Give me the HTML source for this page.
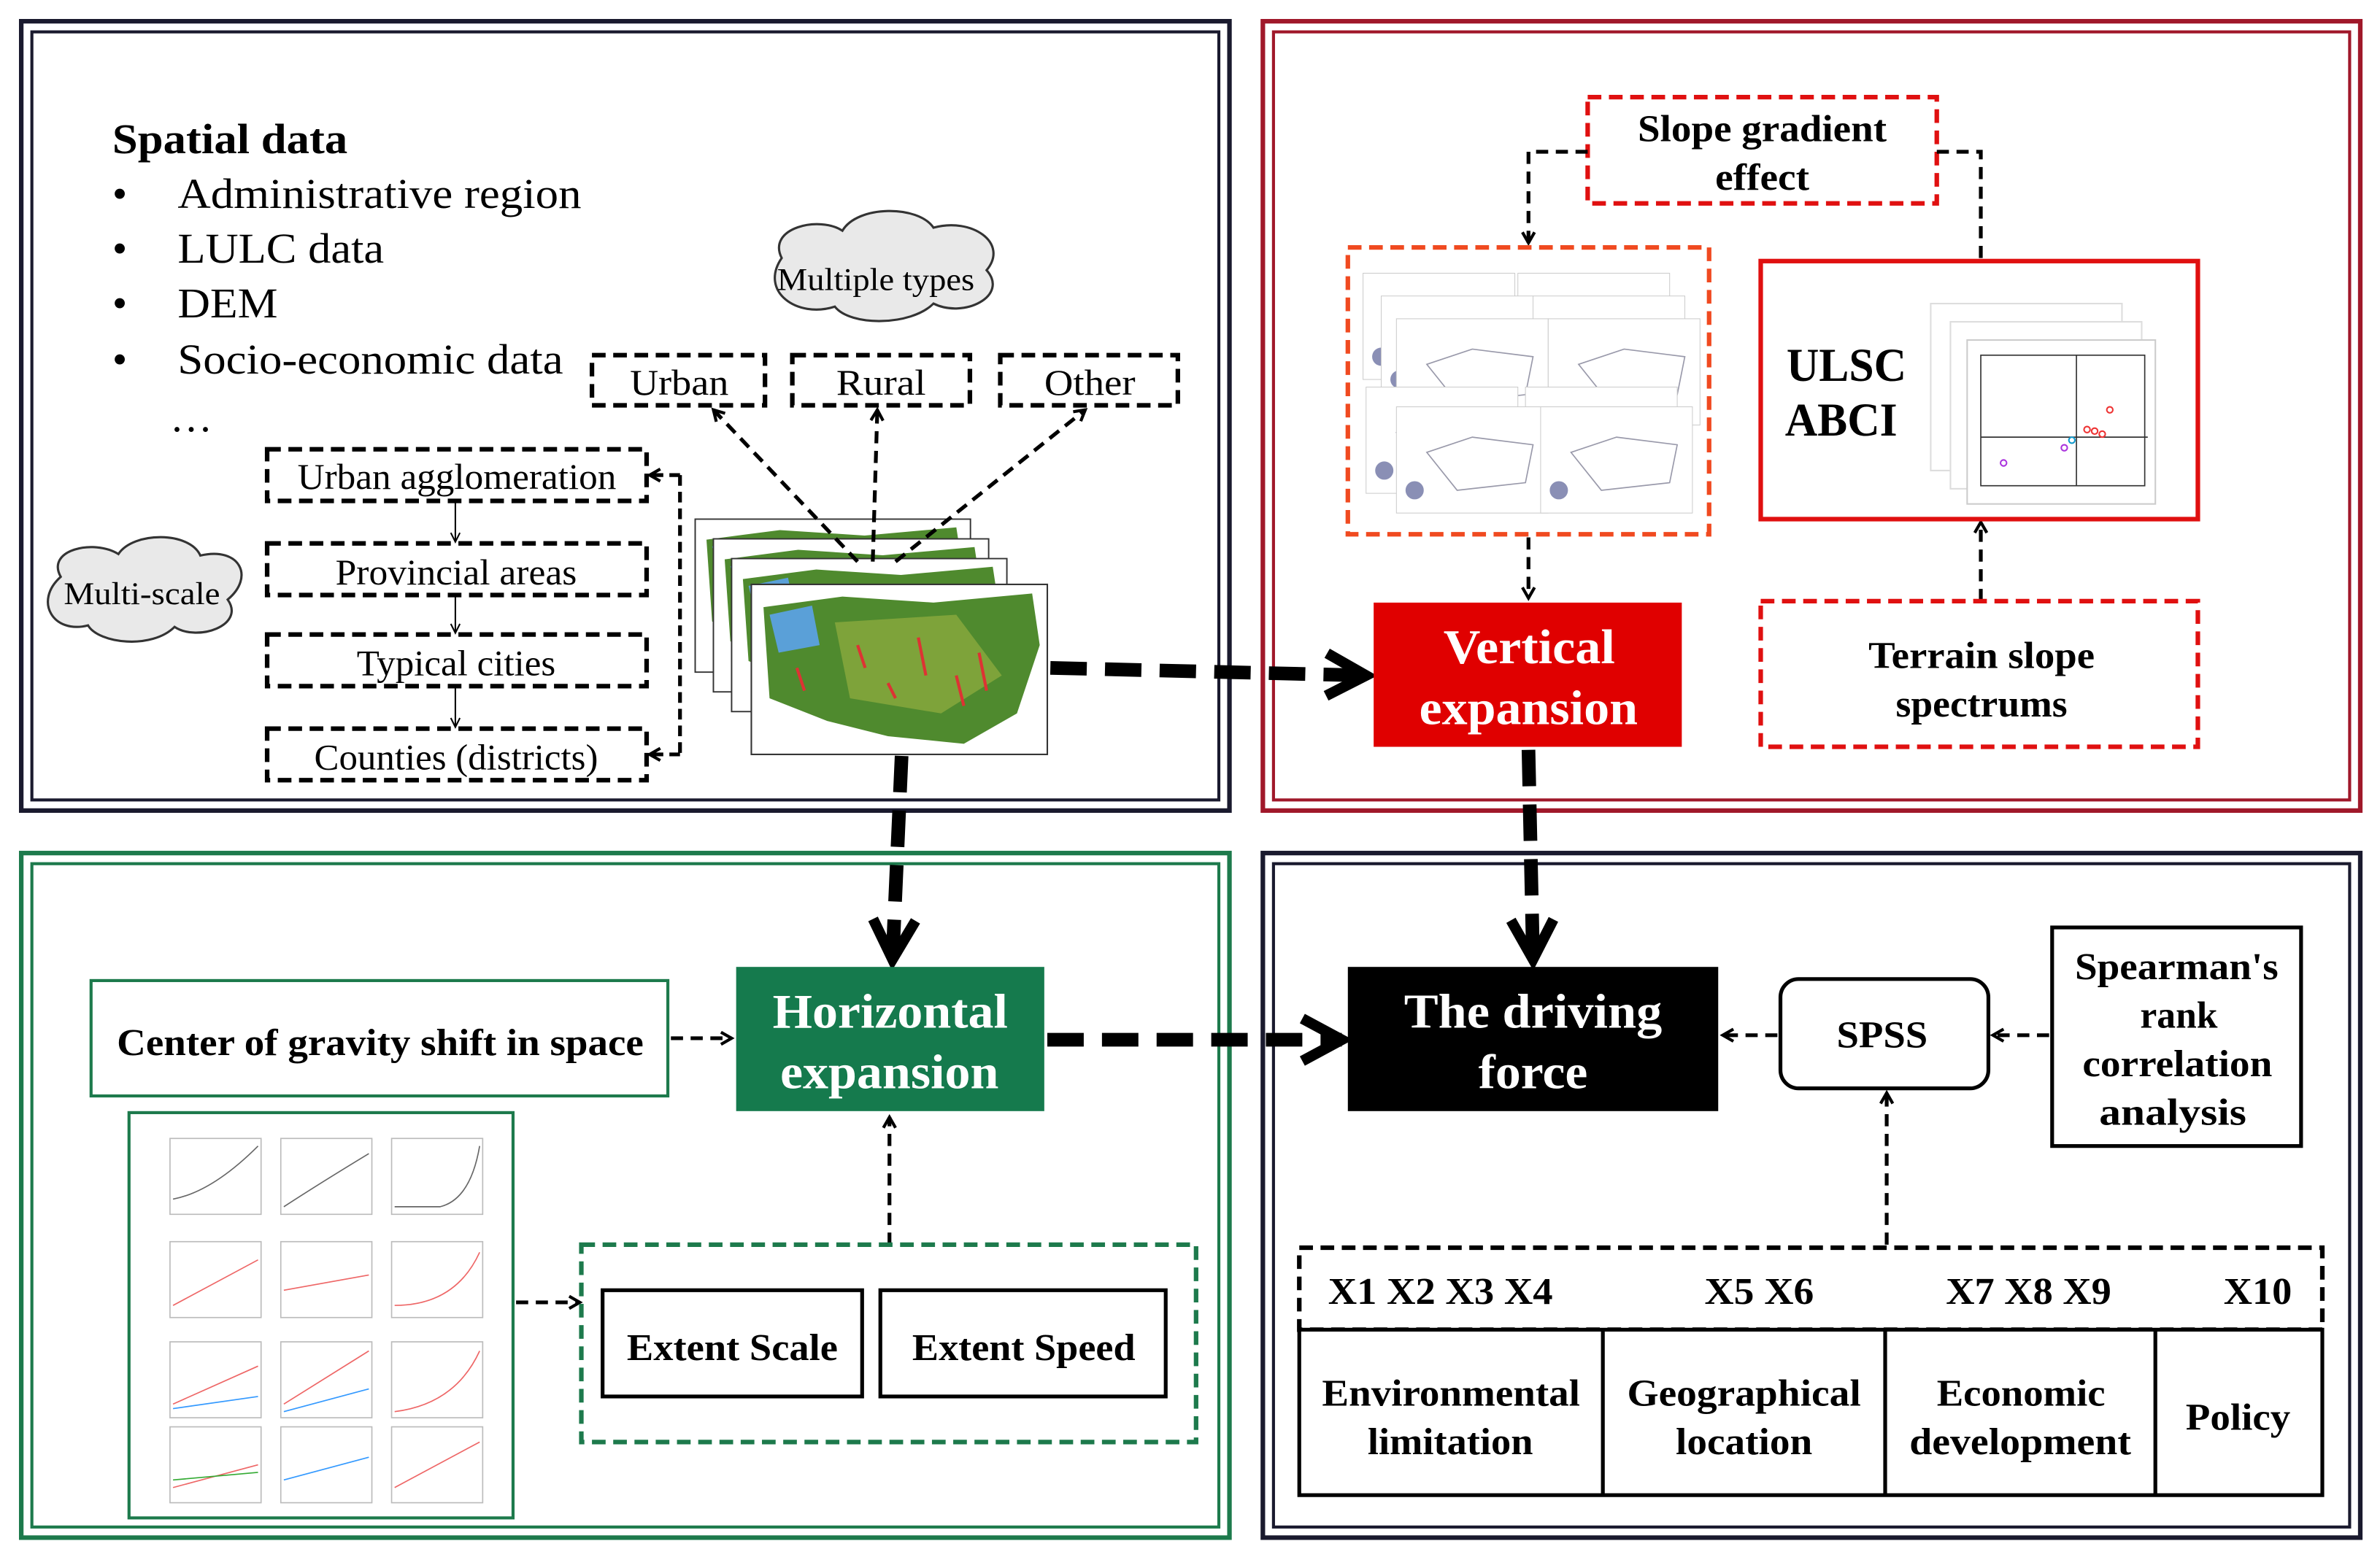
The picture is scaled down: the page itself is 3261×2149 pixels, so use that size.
<!DOCTYPE html>
<html><head><meta charset="utf-8"><style>
html,body{margin:0;padding:0;background:#fff;width:3261px;height:2149px;overflow:hidden}
svg{display:block}
text{font-family:"Liberation Serif",serif}
.b{font-weight:bold}
</style></head><body>
<svg width="3261" height="2149" viewBox="0 0 1568 1033" preserveAspectRatio="none" xmlns="http://www.w3.org/2000/svg">
<defs>
<marker id="ah" markerWidth="10" markerHeight="10" refX="8" refY="5" orient="auto" markerUnits="userSpaceOnUse"><polyline points="1,1 8,5 1,9" fill="none" stroke="#000" stroke-width="2"/></marker>
<marker id="ahs" markerWidth="10" markerHeight="10" refX="8" refY="5" orient="auto" markerUnits="userSpaceOnUse"><polyline points="2,2 8,5 2,8" fill="none" stroke="#000" stroke-width="1"/></marker>
<marker id="big" markerWidth="40" markerHeight="40" refX="32" refY="20" orient="auto" markerUnits="userSpaceOnUse"><polyline points="6,6 32,20 6,34" fill="none" stroke="#000" stroke-width="7"/></marker>
<g id="map">
<rect x="0" y="0" width="195" height="112" fill="#fff" stroke="#333"/>
<path d="M8,15 L60,8 L120,12 L185,6 L190,40 L175,85 L140,105 L90,100 L50,90 L12,75 Z" fill="#4f8a2e"/>
<path d="M12,20 L40,14 L45,40 L18,45 Z" fill="#5aa0d8"/>
<path d="M55,25 L135,20 L165,60 L125,85 L65,75 Z" fill="#7ea33a"/>
<g stroke="#d33" stroke-width="2"><line x1="70" y1="40" x2="75" y2="55"/><line x1="110" y1="35" x2="115" y2="60"/><line x1="150" y1="45" x2="155" y2="70"/><line x1="135" y1="60" x2="140" y2="80"/><line x1="90" y1="65" x2="95" y2="75"/><line x1="30" y1="55" x2="35" y2="70"/></g>
</g>
<g id="smap"><rect width="100" height="70" fill="#fff" stroke="#ccc" stroke-width="0.5"/><path d="M20,30 L50,20 L90,25 L85,50 L40,55 Z" fill="none" stroke="#99a" stroke-width="0.8"/><circle cx="12" cy="55" r="6" fill="#8a8fb5"/></g>
</defs>

<rect x="14" y="14" width="796" height="520" fill="none" stroke="#1a1a2e" stroke-width="3"/>
<rect x="21" y="21" width="782" height="506" fill="none" stroke="#1a1a2e" stroke-width="2"/>
<rect x="832" y="14" width="723" height="520" fill="none" stroke="#a0182a" stroke-width="3"/>
<rect x="839" y="21" width="709" height="506" fill="none" stroke="#a0182a" stroke-width="2"/>
<rect x="14" y="562" width="796" height="451" fill="none" stroke="#1d7a4c" stroke-width="3"/>
<rect x="21" y="569" width="782" height="437" fill="none" stroke="#1d7a4c" stroke-width="2"/>
<rect x="832" y="562" width="723" height="451" fill="none" stroke="#1a1a2e" stroke-width="3"/>
<rect x="839" y="569" width="709" height="437" fill="none" stroke="#1a1a2e" stroke-width="2"/>

<g lengthAdjust="spacingAndGlyphs">
<text x="74" y="101" font-size="28" class="b" textLength="155" lengthAdjust="spacingAndGlyphs">Spatial data</text>
<g font-size="28">
<text x="74" y="137">•</text><text x="117" y="137" textLength="266" lengthAdjust="spacingAndGlyphs">Administrative region</text>
<text x="74" y="173">•</text><text x="117" y="173" textLength="136" lengthAdjust="spacingAndGlyphs">LULC data</text>
<text x="74" y="209">•</text><text x="117" y="209" textLength="66" lengthAdjust="spacingAndGlyphs">DEM</text>
<text x="74" y="246">•</text><text x="117" y="246" textLength="254" lengthAdjust="spacingAndGlyphs">Socio-economic data</text>
<text x="112" y="284" textLength="28" lengthAdjust="spacingAndGlyphs">…</text>
</g>
</g>
<path d="M515,170 C505,150 540,142 555,152 C565,135 605,135 615,150 C640,143 665,160 650,178 C665,195 635,210 615,200 C600,215 560,215 550,202 C525,210 500,192 515,170Z" fill="#e9e9e9" stroke="#333" stroke-width="1.5"/>
<text x="512" y="191" font-size="21" textLength="130" lengthAdjust="spacingAndGlyphs">Multiple types</text>
<path d="M40,380 C30,362 62,355 78,365 C88,350 125,350 132,366 C158,360 168,380 150,395 C162,412 130,423 115,413 C100,428 65,424 58,412 C35,418 22,396 40,380Z" fill="#e9e9e9" stroke="#333" stroke-width="1.5"/>
<text x="42" y="398" font-size="21" textLength="103" lengthAdjust="spacingAndGlyphs">Multi-scale</text>

<g fill="#fff" stroke="#000" stroke-width="3" stroke-dasharray="9,5">
<rect x="390" y="234" width="114" height="33"/><rect x="522" y="234" width="117" height="33"/><rect x="659" y="234" width="117" height="33"/>
<rect x="176" y="296" width="250" height="34"/><rect x="176" y="358" width="250" height="34"/><rect x="176" y="418" width="250" height="34"/><rect x="176" y="480" width="250" height="34"/>
</g>
<g font-size="24">
<text x="415" y="260" textLength="65" lengthAdjust="spacingAndGlyphs">Urban</text><text x="551" y="260" textLength="59" lengthAdjust="spacingAndGlyphs">Rural</text><text x="688" y="260" textLength="60" lengthAdjust="spacingAndGlyphs">Other</text>
<text x="196" y="322" textLength="210" lengthAdjust="spacingAndGlyphs">Urban agglomeration</text><text x="221" y="385" textLength="159" lengthAdjust="spacingAndGlyphs">Provincial areas</text><text x="235" y="445" textLength="131" lengthAdjust="spacingAndGlyphs">Typical cities</text><text x="207" y="507" textLength="187" lengthAdjust="spacingAndGlyphs">Counties (districts)</text>
</g>
<g stroke="#000" stroke-width="1" marker-end="url(#ahs)"><line x1="300" y1="331" x2="300" y2="357"/><line x1="300" y1="393" x2="300" y2="417"/><line x1="300" y1="453" x2="300" y2="479"/></g>
<polyline points="448,313 448,497" fill="none" stroke="#000" stroke-width="2.5" stroke-dasharray="7,4"/>
<g stroke="#000" stroke-width="2.5" stroke-dasharray="7,4" marker-end="url(#ah)"><line x1="448" y1="313" x2="428" y2="313"/><line x1="448" y1="497" x2="428" y2="497"/></g>

<use href="#map" transform="translate(458,342) scale(0.93,0.9)"/>
<use href="#map" transform="translate(470,355) scale(0.93,0.9)"/>
<use href="#map" transform="translate(482,368) scale(0.93,0.9)"/>
<use href="#map" x="495" y="385"/>
<g stroke="#000" stroke-width="2.5" stroke-dasharray="8,5" marker-end="url(#ah)"><line x1="565" y1="370" x2="470" y2="270"/><line x1="575" y1="370" x2="578" y2="270"/><line x1="590" y1="370" x2="715" y2="270"/></g>

<g stroke="#000" stroke-width="9" stroke-dasharray="24,12" fill="none" marker-end="url(#big)">
<line x1="692" y1="440" x2="900" y2="445"/>
<line x1="594" y1="498" x2="588" y2="632"/>
<line x1="1007" y1="494" x2="1010" y2="632"/>
<line x1="690" y1="685" x2="884" y2="685"/>
</g>

<rect x="1046" y="64" width="230" height="70" fill="#fff" stroke="#e01010" stroke-width="3" stroke-dasharray="9,5"/>
<text x="1079" y="93" font-size="25" class="b" textLength="164" lengthAdjust="spacingAndGlyphs">Slope gradient</text>
<text x="1130" y="125" font-size="25" class="b" textLength="62" lengthAdjust="spacingAndGlyphs">effect</text>
<g fill="none" stroke="#000" stroke-width="2.5" stroke-dasharray="8,5">
<polyline points="1046,100 1007,100 1007,160" marker-end="url(#ah)"/>
<polyline points="1276,100 1305,100 1305,172"/>
<line x1="1007" y1="354" x2="1007" y2="394" marker-end="url(#ah)"/>
<line x1="1305" y1="396" x2="1305" y2="344" marker-end="url(#ah)"/>
</g>
<rect x="888" y="163" width="238" height="189" fill="#fff" stroke="#f04a20" stroke-width="3" stroke-dasharray="9,5"/>
<use href="#smap" x="898" y="180"/><use href="#smap" x="1000" y="180"/>
<use href="#smap" x="910" y="195"/><use href="#smap" x="1010" y="195"/>
<use href="#smap" x="920" y="210"/><use href="#smap" x="1020" y="210"/>
<use href="#smap" x="900" y="255"/><use href="#smap" x="1005" y="255"/>
<use href="#smap" x="920" y="268"/><use href="#smap" x="1015" y="268"/>
<rect x="1160" y="172" width="288" height="170" fill="#fff" stroke="#e01010" stroke-width="3"/>
<text x="1177" y="251" font-size="31" class="b" textLength="79" lengthAdjust="spacingAndGlyphs">ULSC</text>
<text x="1176" y="287" font-size="31" class="b" textLength="74" lengthAdjust="spacingAndGlyphs">ABCI</text>
<rect x="1272" y="200" width="126" height="110" fill="#fff" stroke="#ddd"/>
<rect x="1285" y="212" width="126" height="110" fill="#fff" stroke="#ddd"/>
<rect x="1296" y="224" width="124" height="108" fill="#fff" stroke="#ccc"/>
<g stroke="#333" stroke-width="0.8"><line x1="1305" y1="288" x2="1415" y2="288"/><line x1="1368" y1="234" x2="1368" y2="320"/><rect x="1305" y="234" width="108" height="86" fill="none"/></g>
<g fill="none" stroke-width="1"><circle cx="1380" cy="284" r="2" stroke="#e33"/><circle cx="1385" cy="286" r="2" stroke="#e33"/><circle cx="1375" cy="283" r="2" stroke="#e33"/><circle cx="1365" cy="290" r="2" stroke="#19c"/><circle cx="1360" cy="295" r="2" stroke="#a3d"/><circle cx="1320" cy="305" r="2" stroke="#a3d"/><circle cx="1390" cy="270" r="2" stroke="#e33"/></g>
<rect x="1160" y="396" width="288" height="96" fill="#fff" stroke="#e01010" stroke-width="3" stroke-dasharray="9,5"/>
<text x="1231" y="440" font-size="25" class="b" textLength="149" lengthAdjust="spacingAndGlyphs">Terrain slope</text>
<text x="1249" y="472" font-size="25" class="b" textLength="113" lengthAdjust="spacingAndGlyphs">spectrums</text>
<rect x="905" y="397" width="203" height="95" fill="#e00000"/>
<text x="951" y="437" font-size="32" class="b" fill="#fff" textLength="113" lengthAdjust="spacingAndGlyphs">Vertical</text>
<text x="935" y="477" font-size="32" class="b" fill="#fff" textLength="144" lengthAdjust="spacingAndGlyphs">expansion</text>

<rect x="485" y="637" width="203" height="95" fill="#157a4d"/>
<text x="509" y="677" font-size="32" class="b" fill="#fff" textLength="155" lengthAdjust="spacingAndGlyphs">Horizontal</text>
<text x="514" y="717" font-size="32" class="b" fill="#fff" textLength="144" lengthAdjust="spacingAndGlyphs">expansion</text>
<rect x="60" y="646" width="380" height="76" fill="#fff" stroke="#1d7a4c" stroke-width="2"/>
<text x="77" y="695" font-size="25" class="b" textLength="347" lengthAdjust="spacingAndGlyphs">Center of gravity shift in space</text>
<g fill="none" stroke="#000" stroke-width="2.5" stroke-dasharray="8,5" marker-end="url(#ah)">
<line x1="442" y1="684" x2="482" y2="684"/>
<line x1="340" y1="858" x2="382" y2="858"/>
<line x1="586" y1="820" x2="586" y2="736"/>
</g>
<rect x="85" y="733" width="253" height="267" fill="#fff" stroke="#1d7a4c" stroke-width="2"/>
<g fill="none" stroke-width="0.8">
<g stroke="#bbb"><rect x="112" y="750" width="60" height="50"/><rect x="185" y="750" width="60" height="50"/><rect x="258" y="750" width="60" height="50"/>
<rect x="112" y="818" width="60" height="50"/><rect x="185" y="818" width="60" height="50"/><rect x="258" y="818" width="60" height="50"/>
<rect x="112" y="884" width="60" height="50"/><rect x="185" y="884" width="60" height="50"/><rect x="258" y="884" width="60" height="50"/>
<rect x="112" y="940" width="60" height="50"/><rect x="185" y="940" width="60" height="50"/><rect x="258" y="940" width="60" height="50"/></g>
<path d="M114,790 Q140,785 170,755" stroke="#666"/><path d="M187,795 Q210,780 243,760" stroke="#666"/><path d="M260,795 L290,795 Q310,790 316,755" stroke="#666"/>
<path d="M114,860 L170,830" stroke="#e66"/><path d="M187,850 L243,840" stroke="#e66"/><path d="M260,860 Q300,860 316,825" stroke="#e66"/>
<path d="M114,925 L170,900" stroke="#e66"/><path d="M114,928 L170,920" stroke="#39f"/><path d="M187,925 L243,890" stroke="#e66"/><path d="M187,930 L243,915" stroke="#39f"/><path d="M260,930 Q300,925 316,890" stroke="#e66"/>
<path d="M114,980 L170,965" stroke="#e66"/><path d="M114,975 L170,970" stroke="#3a3"/><path d="M187,975 L243,960" stroke="#39f"/><path d="M260,980 L316,950" stroke="#e66"/>
</g>
<rect x="383" y="820" width="405" height="130" fill="none" stroke="#1d7a4c" stroke-width="3" stroke-dasharray="9,5"/>
<rect x="397" y="850" width="171" height="70" fill="#fff" stroke="#000" stroke-width="2.5"/>
<rect x="580" y="850" width="188" height="70" fill="#fff" stroke="#000" stroke-width="2.5"/>
<text x="413" y="896" font-size="25" class="b" textLength="139" lengthAdjust="spacingAndGlyphs">Extent Scale</text>
<text x="601" y="896" font-size="25" class="b" textLength="147" lengthAdjust="spacingAndGlyphs">Extent Speed</text>

<rect x="888" y="637" width="244" height="95" fill="#000"/>
<text x="925" y="677" font-size="32" class="b" fill="#fff" textLength="170" lengthAdjust="spacingAndGlyphs">The driving</text>
<text x="974" y="717" font-size="32" class="b" fill="#fff" textLength="72" lengthAdjust="spacingAndGlyphs">force</text>
<rect x="1173" y="645" width="137" height="72" rx="12" fill="#fff" stroke="#000" stroke-width="2.5"/>
<text x="1210" y="690" font-size="25" class="b" textLength="60" lengthAdjust="spacingAndGlyphs">SPSS</text>
<rect x="1352" y="611" width="164" height="144" fill="#fff" stroke="#000" stroke-width="2.5"/>
<g font-size="25" class="b"><text x="1367" y="645" textLength="134" lengthAdjust="spacingAndGlyphs">Spearman's</text><text x="1410" y="677" textLength="51" lengthAdjust="spacingAndGlyphs">rank</text><text x="1372" y="709" textLength="125" lengthAdjust="spacingAndGlyphs">correlation</text><text x="1383" y="741" textLength="97" lengthAdjust="spacingAndGlyphs">analysis</text></g>
<g fill="none" stroke="#000" stroke-width="2.5" stroke-dasharray="8,5" marker-end="url(#ah)">
<line x1="1350" y1="682" x2="1313" y2="682"/>
<line x1="1171" y1="682" x2="1135" y2="682"/>
<line x1="1243" y1="820" x2="1243" y2="720"/>
</g>
<rect x="856" y="822" width="674" height="54" fill="none" stroke="#000" stroke-width="3" stroke-dasharray="9,5"/>
<g font-size="25" class="b"><text x="875" y="859" textLength="148" lengthAdjust="spacingAndGlyphs">X1 X2 X3 X4</text><text x="1123" y="859" textLength="72" lengthAdjust="spacingAndGlyphs">X5 X6</text><text x="1282" y="859" textLength="109" lengthAdjust="spacingAndGlyphs">X7 X8 X9</text><text x="1465" y="859" textLength="45" lengthAdjust="spacingAndGlyphs">X10</text></g>
<rect x="856" y="876" width="674" height="109" fill="#fff" stroke="#000" stroke-width="2.5"/>
<g stroke="#000" stroke-width="2.5"><line x1="1056" y1="876" x2="1056" y2="985"/><line x1="1242" y1="876" x2="1242" y2="985"/><line x1="1420" y1="876" x2="1420" y2="985"/></g>
<g font-size="25" class="b">
<text x="871" y="926" textLength="170" lengthAdjust="spacingAndGlyphs">Environmental</text><text x="901" y="958" textLength="109" lengthAdjust="spacingAndGlyphs">limitation</text>
<text x="1072" y="926" textLength="154" lengthAdjust="spacingAndGlyphs">Geographical</text><text x="1104" y="958" textLength="90" lengthAdjust="spacingAndGlyphs">location</text>
<text x="1276" y="926" textLength="111" lengthAdjust="spacingAndGlyphs">Economic</text><text x="1258" y="958" textLength="146" lengthAdjust="spacingAndGlyphs">development</text>
<text x="1440" y="942" textLength="69" lengthAdjust="spacingAndGlyphs">Policy</text>
</g>
</svg>
</body></html>
